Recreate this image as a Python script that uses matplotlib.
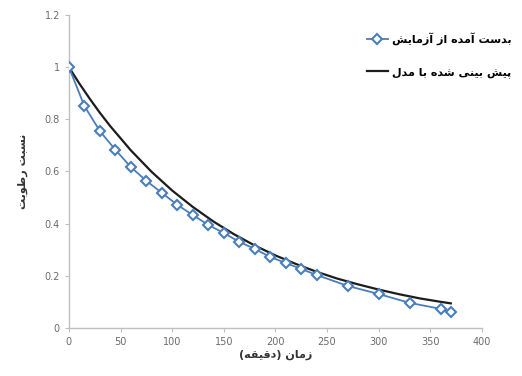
import matplotlib
matplotlib.use("Agg")
import matplotlib.pyplot as plt

t_exp = [0, 15, 30, 45, 60, 75, 90, 105, 120, 135, 150, 165, 180,
         195, 210, 225, 240, 270, 300, 330, 360, 370]
mr_exp = [1.0, 0.851, 0.755, 0.683, 0.617, 0.564, 0.518, 0.472, 0.433,
          0.395, 0.364, 0.330, 0.303, 0.272, 0.249, 0.226, 0.203, 0.161,
          0.130, 0.096, 0.073, 0.061]

# model curve
t_mod = [0, 10, 20, 30, 40, 60, 80, 100, 120, 140, 160, 180, 200, 220,
         240, 260, 280, 300, 320, 340, 360, 370]
mr_mod = [1.0, 0.938, 0.880, 0.825, 0.774, 0.681, 0.599, 0.527, 0.464,
          0.408, 0.359, 0.316, 0.278, 0.245, 0.215, 0.189, 0.167, 0.147,
          0.129, 0.113, 0.100, 0.094]

lbl_exp = "بدست آمده از آزمایش"
lbl_mod = "پیش بینی شده با مدل"
xlabel = "زمان (دقیقه)"
ylabel = "نسبت رطوبت"

# --- minimal Persian shaping (matplotlib has no shaping / bidi) ---
# letter: (isolated, final, initial, medial) ; None for right-joining
FORMS = {
    "ا": ("\uFE8D", "\uFE8E", None, None),
    "آ": ("\uFE81", "\uFE82", None, None),
    "ب": ("\uFE8F", "\uFE90", "\uFE91", "\uFE92"),
    "پ": ("\uFB56", "\uFB57", "\uFB58", "\uFB59"),
    "ت": ("\uFE95", "\uFE96", "\uFE97", "\uFE98"),
    "د": ("\uFEA9", "\uFEAA", None, None),
    "ر": ("\uFEAD", "\uFEAE", None, None),
    "ز": ("\uFEAF", "\uFEB0", None, None),
    "س": ("\uFEB1", "\uFEB2", "\uFEB3", "\uFEB4"),
    "ش": ("\uFEB5", "\uFEB6", "\uFEB7", "\uFEB8"),
    "ط": ("\uFEC1", "\uFEC2", "\uFEC3", "\uFEC4"),
    "ق": ("\uFED5", "\uFED6", "\uFED7", "\uFED8"),
    "ل": ("\uFEDD", "\uFEDE", "\uFEDF", "\uFEE0"),
    "م": ("\uFEE1", "\uFEE2", "\uFEE3", "\uFEE4"),
    "ن": ("\uFEE5", "\uFEE6", "\uFEE7", "\uFEE8"),
    "ه": ("\uFEE9", "\uFEEA", "\uFEEB", "\uFEEC"),
    "و": ("\uFEED", "\uFEEE", None, None),
    "ی": ("\uFEEF", "\uFEF0", "\uFEF3", "\uFEF4"),
}


def fa(text):
    chars = list(text)
    out = []
    for i, c in enumerate(chars):
        if c not in FORMS:
            out.append(c)
            continue
        prev = chars[i - 1] if i > 0 else None
        nxt = chars[i + 1] if i + 1 < len(chars) else None
        join_prev = prev in FORMS and FORMS[prev][2] is not None
        join_next = FORMS[c][2] is not None and nxt in FORMS
        iso, fin, ini, med = FORMS[c]
        if join_prev and join_next:
            out.append(med)
        elif join_prev:
            out.append(fin)
        elif join_next:
            out.append(ini)
        else:
            out.append(iso)
    vis = "".join(reversed(out))
    return vis.translate(str.maketrans("()", ")("))


plt.rcParams["font.family"] = ["DejaVu Sans"]

fig = plt.figure(figsize=(5.22, 3.76), dpi=100)
ax = fig.add_axes([0.132, 0.128, 0.791, 0.832])

blue = "#4a7ebb"
ax.plot(t_exp, mr_exp, color=blue, lw=1.3, marker="D", ms=5.5,
        mfc="white", mec=blue, mew=1.5, label=fa(lbl_exp), zorder=3)
ax.plot(t_mod, mr_mod, color="#1c1c1c", lw=1.6, label=fa(lbl_mod), zorder=2)

ax.set_xlim(0, 400)
ax.set_ylim(0, 1.2)
ax.set_xticks(range(0, 401, 50))
ax.set_yticks([0, 0.2, 0.4, 0.6, 0.8, 1.0, 1.2])
ax.set_yticklabels(["0", "0.2", "0.4", "0.6", "0.8", "1", "1.2"])

for s in ["top", "right"]:
    ax.spines[s].set_visible(False)
for s in ["left", "bottom"]:
    ax.spines[s].set_color("#bfbfbf")
    ax.spines[s].set_linewidth(1.0)
ax.tick_params(colors="#bfbfbf", labelcolor="#6b6b6b", labelsize=7,
               length=3, width=0.8, direction="out")

ax.set_xlabel(fa(xlabel), fontsize=8, fontweight="bold", color="#333333",
              labelpad=2)
ax.set_ylabel(fa(ylabel), fontsize=8, fontweight="bold", color="#333333",
              labelpad=12)

fig.legend(loc="upper left", bbox_to_anchor=(0.692, 0.93), frameon=False,
           handlelength=1.9, handletextpad=0.4, labelspacing=2.0,
           borderpad=0, prop={"weight": "bold", "size": 8})

fig.savefig("out.png", dpi=100)
